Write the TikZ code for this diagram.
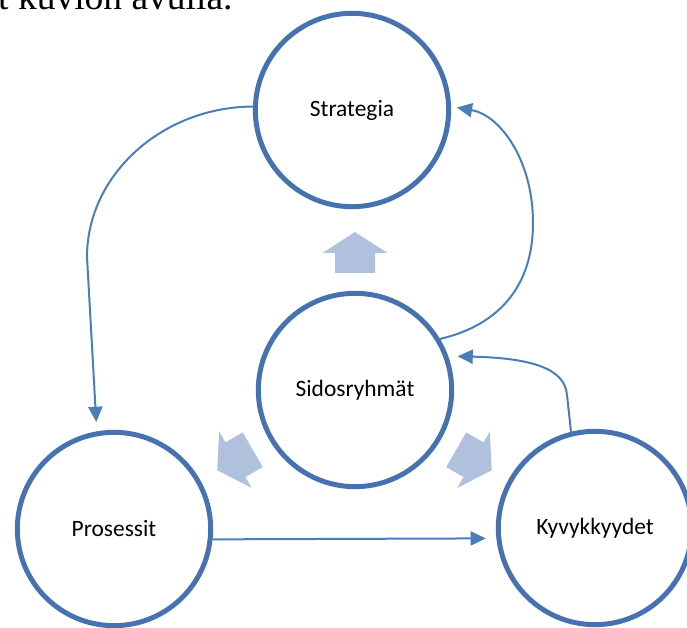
\documentclass[tikz,border=0pt]{standalone}
\usepackage{fontspec}
\setmainfont{Carlito}
\newfontfamily\bodyfont{Liberation Serif}
\usetikzlibrary{arrows.meta}
\definecolor{ringblue}{HTML}{4672AF}
\definecolor{lineblue}{HTML}{4A7EBB}
\definecolor{fatblue}{HTML}{B0C1DD}

\begin{document}
\begin{tikzpicture}[x=0.03cm,y=-0.03cm,>={Triangle[length=13pt,width=12pt]},ring/.style={circle,draw=ringblue,line width=0.15cm,minimum size=5.8cm,inner sep=0pt,font=\fontsize{20}{24}\selectfont},conn/.style={->,draw=lineblue,line width=0.06cm},fatarrow/.style={fill=fatblue}]
\useasboundingbox (0,0) rectangle (687,628);
\node[anchor=base west,inner sep=0pt,font=\bodyfont\fontsize{32}{38}\selectfont] (intro) at (-2,10) {t kuvion avulla.};
\node[ring] (strat) at (352,110) {Strategia};
\node[ring] (sid) at (355,390) {Sidosryhmät};
\node[ring] (pros) at (114,529) {Prosessit};
\node[ring] (kyv) at (595,528) {Kyvykkyydet};
% block arrows out of the middle circle
\foreach \cx/\cy/\a in {355/252.5/90, 235/460/210, 474/460/330}
  \fill[fatarrow,shift={(\cx,\cy)},rotate=\a] (-20.5,-20) -- (-0.5,-20) -- (-0.5,-32.5) -- (20.5,0) -- (-0.5,32.5) -- (-0.5,20) -- (-20.5,20) -- cycle;
\draw[conn,shorten >=8pt] (strat.178) .. controls (162,107) and (87,175) .. (87,257) -- (pros.100);
\draw[conn,shorten >=5pt] (sid.31) .. controls (500,325) and (533,285) .. (533,223) .. controls (533,160) and (500,115) .. (strat.2);
\draw[conn,shorten >=8pt] (kyv.104) -- (567,395) .. controls (565,368) and (530,358) .. (sid.20);
\draw[conn,shorten >=9pt] (pros.-6) -- (kyv.186);
\end{tikzpicture}
\end{document}
